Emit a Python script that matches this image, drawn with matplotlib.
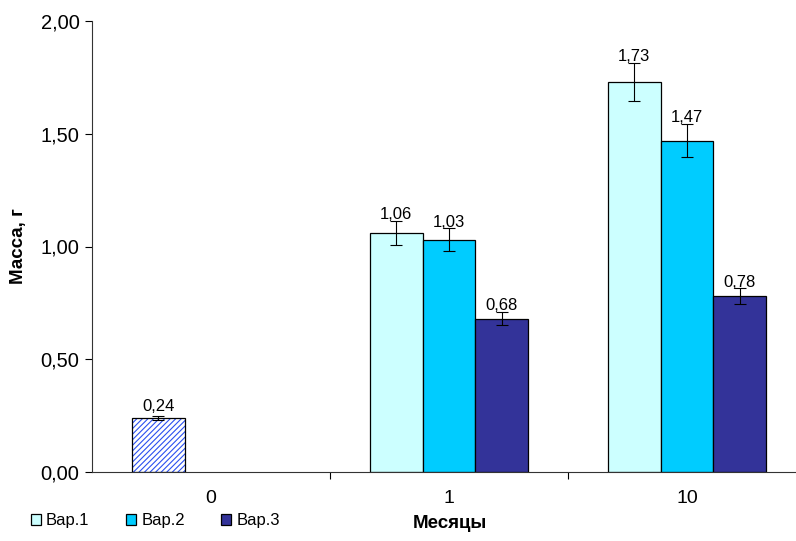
import matplotlib
matplotlib.use('Agg')
import matplotlib.pyplot as plt
from matplotlib.ticker import MultipleLocator, FuncFormatter

plt.rcParams['font.family'] = ['Liberation Sans', 'DejaVu Sans']
plt.rcParams['hatch.linewidth'] = 0.8

months = ['0', '1', '10']
series = ['Вар.1', 'Вар.2', 'Вар.3']
colors = ['#ccffff', '#00ccff', '#333399']

# month 0: single starting value
start_value = 0.24
start_err = 0.01

# months 1 and 10
var1 = [1.06, 1.73]
var2 = [1.03, 1.47]
var3 = [0.68, 0.78]
err1 = [0.053, 0.085]
err2 = [0.05, 0.073]
err3 = [0.03, 0.035]


def fmt(v):
    return f'{v:.2f}'.replace('.', ',')


fig = plt.figure(figsize=(7.96, 5.41), dpi=100)
ax = fig.add_axes([92 / 796, 69 / 541, 714 / 796, 451 / 541])

w = 0.222
ekw = dict(ecolor='black', elinewidth=0.8, capsize=4, capthick=0.8)

# hatched start bar: blue hatch, black outline on top
ax.bar(0 - w, start_value, w, color='white', edgecolor='#2a4ff0', linewidth=0,
       hatch='//////', zorder=2)
ax.bar(0 - w, start_value, w, fill=False, edgecolor='black', linewidth=0.9,
       yerr=start_err, error_kw=ekw, zorder=3)
ax.annotate(fmt(start_value), (0 - w, start_value + start_err), xytext=(0, 1),
            textcoords='offset points', ha='center', va='bottom', fontsize=12)

xs = [1, 2]
for vals, errs, col, off, name in zip([var1, var2, var3], [err1, err2, err3],
                                       colors, [-w, 0, w], series):
    ax.bar([x + off for x in xs], vals, w, color=col, edgecolor='black',
           linewidth=0.9, yerr=errs, error_kw=ekw, label=name, zorder=2)
    for x, v, e in zip(xs, vals, errs):
        ax.annotate(fmt(v), (x + off, v + e), xytext=(0, -1),
                    textcoords='offset points', ha='center', va='bottom',
                    fontsize=12)

ax.set_xlim(-0.5, 2.5)
ax.set_ylim(0, 2.0)
ax.yaxis.set_major_locator(MultipleLocator(0.5))
ax.yaxis.set_major_formatter(FuncFormatter(lambda v, p: fmt(v)))
ax.set_xticks([0, 1, 2])
ax.set_xticklabels(months)
ax.set_xticks([0.5, 1.5], minor=True)
ax.tick_params(axis='x', which='major', length=0, pad=13, labelsize=14)
ax.tick_params(axis='x', which='minor', length=5, width=0.8, direction='out')
ax.tick_params(axis='y', length=5, width=0.8, labelsize=14.5, pad=4)

for s in ['top', 'right']:
    ax.spines[s].set_visible(False)
for s in ['left', 'bottom']:
    ax.spines[s].set_linewidth(0.8)
    ax.spines[s].set_color('#333333')

ax.set_ylabel('Масса, г', fontsize=13.5, fontweight='bold', labelpad=10)
fig.text(450 / 796, 1 - 524 / 541, 'Месяцы', ha='center', va='center',
         fontsize=13.5, fontweight='bold')

leg = fig.legend(loc='center left', bbox_to_anchor=(16 / 796, 1 - 521 / 541),
                 ncol=3, frameon=False, fontsize=12, handlelength=0.6,
                 handleheight=0.6, columnspacing=2.2, handletextpad=0.3)

fig.savefig('out.png', dpi=100)
